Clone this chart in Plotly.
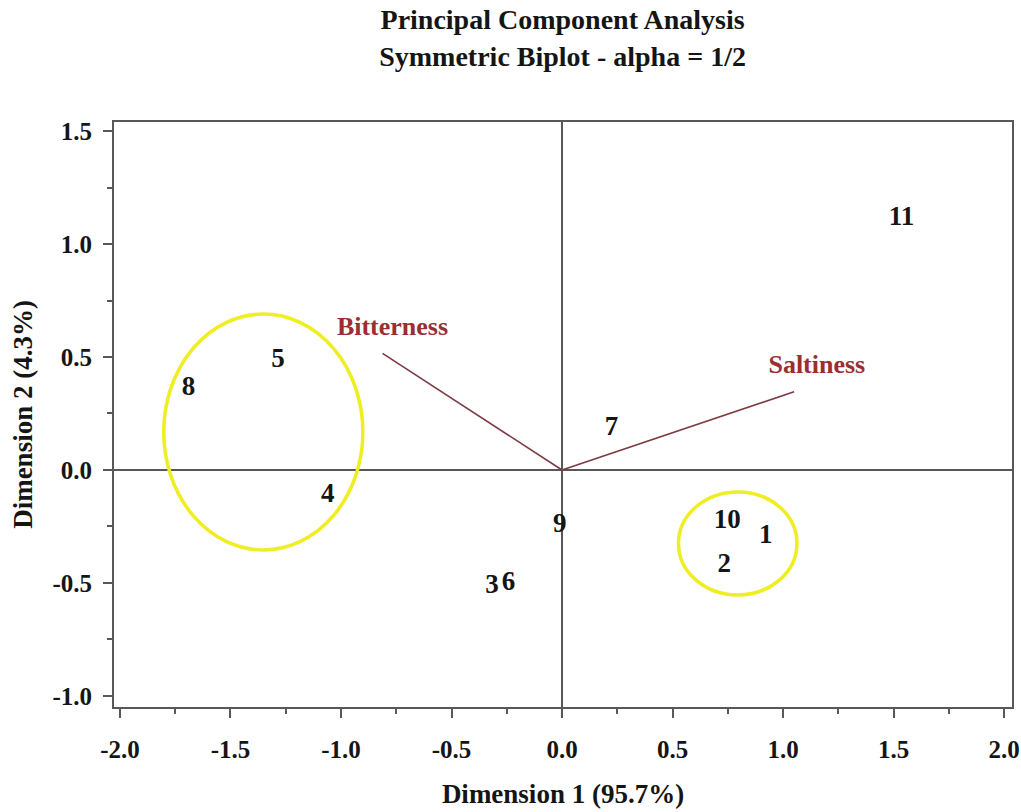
import plotly.graph_objects as go

# Observations (row points)
obs_labels = ["1", "2", "3", "4", "5", "6", "7", "8", "9", "10", "11"]
obs_x = [0.922, 0.734, -0.317, -1.06, -1.285, -0.242, 0.224, -1.69, -0.01, 0.748, 1.536]
obs_y = [-0.295, -0.42, -0.516, -0.111, 0.487, -0.50, 0.186, 0.363, -0.243, -0.229, 1.115]

# Variables (column vectors)
var_names = ["Bitterness", "Saltiness"]
var_x = [-0.812, 1.05]
var_y = [0.516, 0.346]
var_label_x = [-0.767, 1.153]
var_label_y = [0.628, 0.457]

# Highlight ellipses (x0, x1, y0, y1)
ell_x0 = [-1.802, 0.527]
ell_x1 = [-0.901, 1.063]
ell_y0 = [-0.354, -0.553]
ell_y1 = [0.690, -0.097]

x_ticks = [-2.0, -1.5, -1.0, -0.5, 0.0, 0.5, 1.0, 1.5, 2.0]
y_ticks = [-1.0, -0.5, 0.0, 0.5, 1.0, 1.5]

SERIF = "Liberation Serif"
AXC = "#585858"
VARC = "#7d3a42"
TXT = "#151515"

fig = go.Figure()

for i, name in enumerate(var_names):
    fig.add_trace(go.Scatter(
        x=[0, var_x[i]], y=[0, var_y[i]], mode="lines",
        line=dict(color=VARC, width=1.6), hoverinfo="skip", showlegend=False))
    fig.add_trace(go.Scatter(
        x=[var_label_x[i]], y=[var_label_y[i]], mode="text", text=[name],
        textfont=dict(family=SERIF, size=26, color="#9b2d33", weight="bold"),
        textposition="middle center", showlegend=False))

fig.add_trace(go.Scatter(
    x=obs_x, y=obs_y, mode="text", text=obs_labels,
    textfont=dict(family=SERIF, size=27, color=TXT, weight="bold"),
    textposition="middle center", showlegend=False))

for i in range(len(ell_x0)):
    fig.add_shape(type="circle", xref="x", yref="y",
                  x0=ell_x0[i], x1=ell_x1[i], y0=ell_y0[i], y1=ell_y1[i],
                  line=dict(color="#eeee22", width=3.5), layer="above")

axis_common = dict(
    showgrid=False, zeroline=True, zerolinecolor=AXC, zerolinewidth=2,
    showline=True, linecolor=AXC, linewidth=2, mirror=True,
    ticks="outside", ticklen=9, tickwidth=2, tickcolor=AXC,
    tickfont=dict(family=SERIF, size=25, color=TXT, weight="bold"),
    minor=dict(ticks="outside", ticklen=5, tickwidth=2, tickcolor=AXC, dtick=0.25),
    automargin=False,
)

fig.update_layout(
    width=1021, height=812,
    margin=dict(l=114, r=9, t=122, b=105),
    paper_bgcolor="white", plot_bgcolor="white",
    title=dict(text="Principal Component Analysis<br>Symmetric Biplot - alpha = 1/2",
               x=0.551, xanchor="center", y=0.964, yanchor="top",
               font=dict(family=SERIF, size=28, color=TXT, weight="bold")),
    xaxis=dict(range=[-2.027, 2.036], tickvals=x_ticks,
               ticktext=[f"{v:.1f}" for v in x_ticks],
               ticklabelstandoff=10,
               title=dict(text="Dimension 1 (95.7%)", standoff=22,
                          font=dict(family=SERIF, size=27, color=TXT, weight="bold")),
               **axis_common),
    yaxis=dict(range=[-1.049, 1.54], tickvals=y_ticks,
               ticktext=[f"{v:.1f}" for v in y_ticks],
               ticklabelstandoff=6,
               title=dict(text="Dimension 2 (4.3%)", standoff=12,
                          font=dict(family=SERIF, size=27, color=TXT, weight="bold")),
               **axis_common),
)

fig.write_html("out.html")
